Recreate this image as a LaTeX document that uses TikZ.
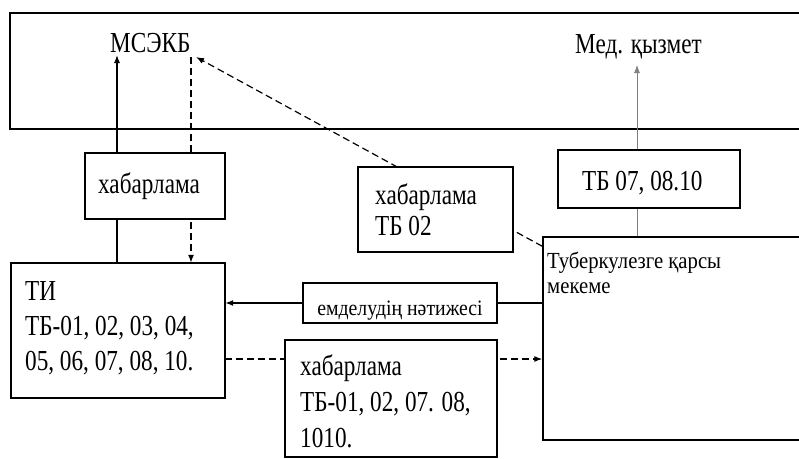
\documentclass[tikz,border=0pt]{standalone}
\usepackage{fontspec}
\setmainfont{Liberation Serif}
\newfontfamily\narrowfont{Liberation Serif}[FakeStretch=0.8]
\newfontfamily\midfont{Liberation Serif}[FakeStretch=0.9]
\usetikzlibrary{arrows.meta}
\begin{document}
\begin{tikzpicture}[x=1pt,y=-1pt,
  frame/.style={draw=black, line width=1.4pt},
  boxnode/.style={draw=black, line width=1.4pt, fill=white, inner sep=0pt, rectangle},
  conn/.style={draw=black, line width=1.2pt},
  dashconn/.style={conn, dash pattern=on 7pt off 4pt},
  tip/.style={-{Latex[length=8pt,width=6pt]}},
  lbl/.style={inner sep=0pt, anchor=base west, font=\narrowfont\fontsize{29}{35}\selectfont},
  smalllbl/.style={inner sep=0pt, font=\midfont\fontsize{22}{26}\selectfont}
]
\useasboundingbox (0,0) rectangle (799,458);
\clip (0,0) rectangle (799,458);
\fill[white] (0,0) rectangle (799,458);

% frames that run off the right edge
\node[frame, inner sep=0pt, minimum width=820pt, minimum height=116pt] (band) at (420,71) {};
\node[frame, inner sep=0pt, minimum width=287pt, minimum height=203pt] (tuber) at (686.5,338.5) {};

% boxes (drawn later, white fill) -- defined here for names
\path (155,186) node[inner sep=0pt, minimum width=140pt, minimum height=66pt] (hab1) {};
\path (118,330.5) node[inner sep=0pt, minimum width=214pt, minimum height=135pt] (ti) {};
\path (435.5,209.5) node[inner sep=0pt, minimum width=155pt, minimum height=85pt] (tb02) {};
\path (649,179) node[inner sep=0pt, minimum width=182pt, minimum height=58pt] (tb07) {};
\path (400,303) node[inner sep=0pt, minimum width=194pt, minimum height=40pt] (emd) {};
\path (391,398.5) node[inner sep=0pt, minimum width=212pt, minimum height=117pt] (hab3) {};

% connector end points
\coordinate (msekbL) at (117,55);
\coordinate (msekbR) at (191,57);
\coordinate (msekbD) at (196,57);
\coordinate (medA) at (637,65);
\coordinate (resY) at (0,303);
\coordinate (repY) at (0,359);

% connectors
\draw[conn, tip] (ti.north -| msekbL) -- (msekbL);
\draw[dashconn, tip] (msekbR) -- (msekbR |- ti.north);
\draw[dashconn, tip] ([yshift=-10pt]tuber.north west) -- (msekbD);
\draw[draw=gray, line width=0.8pt, tip] (tuber.north -| medA) -- (medA);
\draw[conn, tip] (tuber.west |- resY) -- (ti.east |- resY);
\draw[dashconn, tip] (ti.east |- repY) -- (tuber.west |- repY);

% boxes on top
\node[boxnode, minimum width=140pt, minimum height=66pt] at (hab1) {};
\node[boxnode, minimum width=214pt, minimum height=135pt] at (ti) {};
\node[boxnode, minimum width=155pt, minimum height=85pt] at (tb02) {};
\node[boxnode, minimum width=182pt, minimum height=58pt] at (tb07) {};
\node[boxnode, minimum width=194pt, minimum height=40pt] at (emd) {};
\node[boxnode, minimum width=212pt, minimum height=117pt] at (hab3) {};

% texts
\node[lbl] (tmsekb) at (110,52) {МСЭКБ};
\node[lbl] (tmed) at (575,53) {Мед. қызмет};
\node[lbl] (thab1) at (98,193) {хабарлама};
\node[lbl] (ttb02a) at (375,204) {хабарлама};
\node[lbl] (ttb02b) at (375,235) {ТБ 02};
\node[lbl] (ttb07) at (582,190) {ТБ 07, 08.10};
\node[lbl] (tti1) at (25,300) {ТИ};
\node[lbl] (tti2) at (25,335) {ТБ-01, 02, 03, 04,};
\node[lbl] (tti3) at (25,370) {05, 06, 07, 08, 10.};
\node[lbl] (thab3a) at (300,375) {хабарлама};
\node[lbl] (thab3b) at (300,411) {ТБ-01, 02, 07. 08,};
\node[lbl] (thab3c) at (300,447) {1010.};
\node[smalllbl, anchor=base] (temd) at (400,315) {емделудің нәтижесі};
\node[inner sep=0pt, anchor=base west, font=\midfont\fontsize{23}{27}\selectfont] (ttub1) at (547,268) {Туберкулезге қарсы};
\node[inner sep=0pt, anchor=base west, font=\midfont\fontsize{23}{27}\selectfont] (ttub2) at (547,293) {мекеме};
\end{tikzpicture}
\end{document}
